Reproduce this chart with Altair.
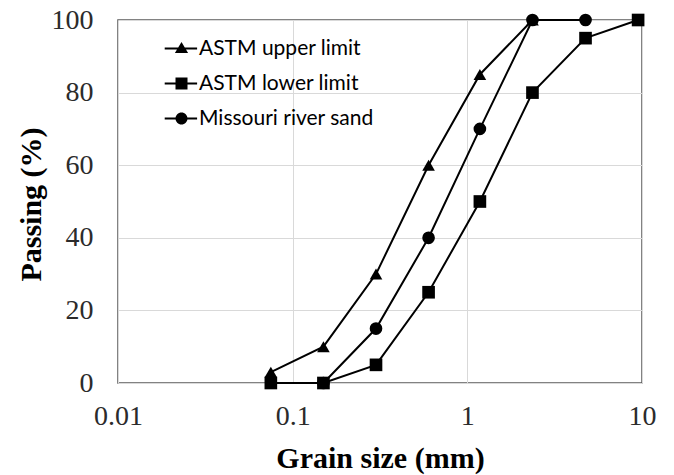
import altair as alt
import pandas as pd

series_names = ["ASTM upper limit", "ASTM lower limit", "Missouri river sand"]

sieve_upper = [0.075, 0.15, 0.3, 0.6, 1.18, 2.36]
passing_upper = [3, 10, 30, 60, 85, 100]

sieve_sand = [0.15, 0.3, 0.6, 1.18, 2.36, 4.75]
passing_sand = [0, 15, 40, 70, 100, 100]

sieve_lower = [0.075, 0.15, 0.3, 0.6, 1.18, 2.36, 4.75, 9.5]
passing_lower = [0, 0, 5, 25, 50, 80, 95, 100]

x_ticks = [0.01, 0.1, 1, 10]
y_ticks = [0, 20, 40, 60, 80, 100]

# drawing order: upper, sand, lower (lower on top)
rows = []
for name, xs, ys in [
    (series_names[0], sieve_upper, passing_upper),
    (series_names[2], sieve_sand, passing_sand),
    (series_names[1], sieve_lower, passing_lower),
]:
    for xv, yv in zip(xs, ys):
        rows.append({"series": name, "size": xv, "passing": yv})
df = pd.DataFrame(rows)

marker_shapes = ["triangle-up", "square", "circle"]
line_bar = "M-2.8,-0.16H2.6V0.16H-2.8Z"
legend_shapes = [
    line_bar + " M0,-1.1L1.1,0.75L-1.1,0.75Z",
    line_bar + " M-1,-1H1V1H-1Z",
    line_bar + " M1,0A1,1 0 1,1 -1,0A1,1 0 1,1 1,0Z",
]

label_color = "#2b2b2b"

x_enc = alt.X(
    "size:Q",
    scale=alt.Scale(type="log", domain=[0.01, 10]),
    axis=alt.Axis(
        values=x_ticks, format="~g", title="Grain size (mm)",
        grid=True, ticks=False, domain=False,
        labelFont="Liberation Serif", labelFontSize=28, labelColor=label_color,
        labelPadding=19, labelFlush=False,
        titleFont="Liberation Serif", titleFontSize=30, titleFontWeight="bold",
        titleColor="black", titleBaseline="alphabetic", titleY=84,
    ),
)
y_enc = alt.Y(
    "passing:Q",
    scale=alt.Scale(domain=[0, 100], nice=False),
    axis=alt.Axis(
        values=y_ticks, title="Passing (%)",
        grid=True, ticks=False, domain=False,
        labelFont="Liberation Serif", labelFontSize=28, labelColor=label_color,
        labelPadding=25,
        titleFont="Liberation Serif", titleFontSize=30, titleFontWeight="bold",
        titleColor="black", titleBaseline="alphabetic", titleX=-78, titleY=184,
        titleAngle=-90,
    ),
)

base = alt.Chart(df)

lines = base.mark_line(color="black", strokeWidth=2).encode(
    x=x_enc, y=y_enc, detail="series:N"
)

points = base.mark_point(filled=True, opacity=1, color="black").encode(
    x="size:Q", y="passing:Q",
    shape=alt.Shape("series:N",
                    scale=alt.Scale(domain=series_names, range=marker_shapes),
                    legend=None),
    size=alt.Size("series:N",
                  scale=alt.Scale(domain=series_names, range=[160, 160, 150]),
                  legend=None),
)

legend_layer = base.mark_point(filled=True, opacity=0, color="black").encode(
    x="size:Q", y="passing:Q",
    shape=alt.Shape(
        "series:N",
        scale=alt.Scale(domain=series_names, range=legend_shapes),
        legend=alt.Legend(
            title=None, orient="none", legendX=53, legendY=18,
            symbolSize=144, symbolOpacity=1, symbolFillColor="black",
            symbolStrokeColor="black", symbolStrokeWidth=0,
            labelFont="Lato", labelFontSize=21, labelColor="black",
            labelOffset=7, rowPadding=13, padding=0, labelLimit=400,
        ),
    ),
)

chart = (
    alt.layer(lines, points, legend_layer)
    .resolve_scale(shape="independent", size="independent")
    .properties(
        width=524, height=363,
        autosize=alt.AutoSizeParams(type="none"),
        padding={"left": 118, "top": 20, "right": 32, "bottom": 92},
        background="white",
    )
    .configure_view(stroke="#595959", strokeWidth=1.5)
    .configure_axis(gridColor="#d9d9d9", gridWidth=1)
)

chart.save("out.html", embed_options={"renderer": "svg", "actions": False})
